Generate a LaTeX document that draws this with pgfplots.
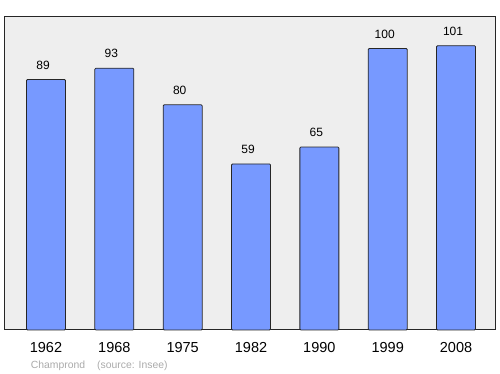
\documentclass[border=0pt]{standalone}
\usepackage{pgfplots}
\pgfplotsset{compat=1.18}
\usepackage{fontspec}
\setmainfont{Liberation Sans}
\definecolor{barblue}{RGB}{119,153,255}
\definecolor{bggray}{RGB}{238,238,238}
\definecolor{srcgray}{RGB}{170,170,170}
\begin{document}
\begin{tikzpicture}
\begin{axis}[
  scale only axis,
  width=490pt, height=313pt,
  xmin=-0.6, xmax=6.57,
  ymin=0, ymax=111.2,
  axis background/.style={fill=bggray},
  axis line style={draw=black!85, line width=1pt},
  xtick=data,
  xticklabels={1962,1968,1975,1982,1990,1999,2008},
  ytick=\empty,
  major tick length=0pt,
  xticklabel style={font=\fontsize{14.5}{16}\selectfont, yshift=-9pt},
  /pgf/number format/assume math mode=true,
  ybar, bar width=39pt,
  nodes near coords,
  nodes near coords style={font=\fontsize{12}{14}\selectfont, yshift=6.5pt, xshift=-3pt},
  clip=false,
]
\addplot[fill=barblue, draw=black!85, line width=0.8pt, rounded corners=1pt]
  coordinates {(0,89) (1,93) (2,80) (3,59) (4,65) (5,100) (6,101)};
\coordinate (O) at (rel axis cs:0,0);
\end{axis}
\node[anchor=base west, inner sep=0, text=srcgray, font=\fontsize{10.4}{12}\selectfont]
  at ([xshift=25.7pt,yshift=-39pt]O) {Champrond\hspace{12pt}(source: Insee)};
\path ([xshift=-5pt,yshift=-44pt]O) rectangle ++(500pt,374pt);
\end{tikzpicture}
\end{document}
